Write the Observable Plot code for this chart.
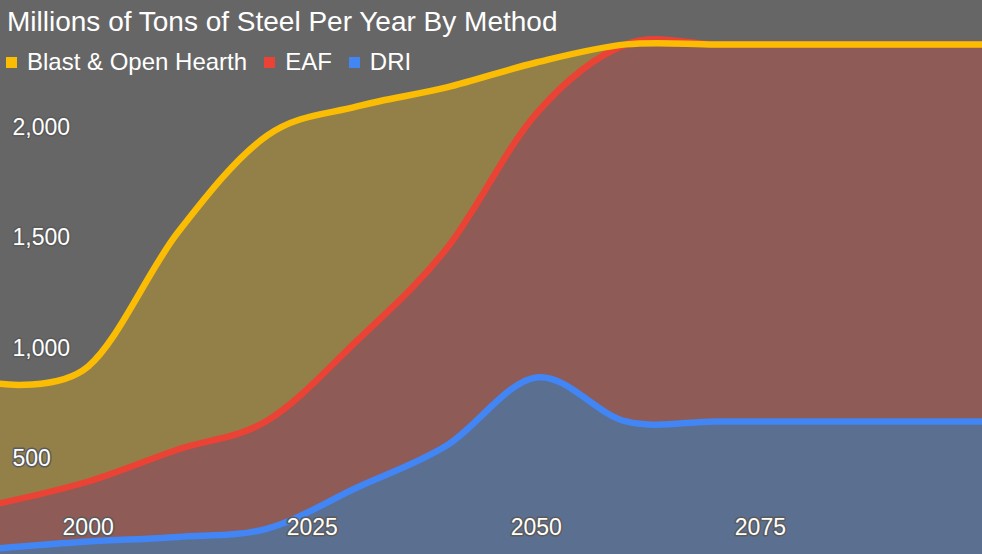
<!DOCTYPE html>
<html>
<head>
<meta charset="utf-8">
<script src="https://cdn.jsdelivr.net/npm/d3@7"></script>
<script src="https://cdn.jsdelivr.net/npm/@observablehq/plot@0.6"></script>
<style>
  html, body { margin: 0; padding: 0; background: #666666; overflow: hidden; }
  #wrap { position: relative; width: 982px; height: 554px; font-family: "Liberation Sans", Arial, sans-serif; color: #fff; }
  #title { position: absolute; left: 7px; top: 8px; font-size: 28px; line-height: 28px; white-space: nowrap; }
  #legend { position: absolute; left: 6px; top: 50px; display: flex; align-items: center; font-size: 24px; line-height: 24px; white-space: nowrap; }
  .item { display: flex; align-items: center; margin-right: 17px; }
  .sw { width: 11px; height: 11px; margin-right: 10px; }
  #chart { position: absolute; left: 0; top: 0; }
  #chart svg { overflow: hidden; }
</style>
</head>
<body>
<div id="wrap">
  <div id="chart"></div>
  <div id="title">Millions of Tons of Steel Per Year By Method</div>
  <div id="legend"></div>
</div>
<script>
// Data (millions of tons per year)
const years = [1990, 2000, 2010, 2020, 2030, 2040, 2050, 2060, 2070, 2080, 2090, 2100];
const dri   = [94, 125, 146, 184, 370, 560, 868, 669, 669, 669, 669, 669];
const eaf   = [203, 272, 396, 489, 665, 892, 1195, 1707, 1707, 1707, 1707, 1707];
const blast = [543, 521, 982, 1291, 1060, 729, 231, 0, 0, 0, 0, 0];

const methods = ["Blast & Open Hearth", "EAF", "DRI"];
const colors  = ["#FBBC04", "#EA4335", "#4285F4"];
const stackOrder = ["DRI", "EAF", "Blast & Open Hearth"];

const xTicks = [2000, 2025, 2050, 2075];
const yTicks = [500, 1000, 1500, 2000];

const series = {"DRI": dri, "EAF": eaf, "Blast & Open Hearth": blast};
const rows = stackOrder.flatMap(m => years.map((y, i) => ({year: y, method: m, value: series[m][i]})));

const fmt = d3.format(",");

const plot = Plot.plot({
  width: 982,
  height: 554,
  marginTop: 0, marginRight: 0, marginBottom: 0, marginLeft: 0,
  style: {background: "transparent", fontFamily: "'Liberation Sans', Arial, sans-serif"},
  x: {domain: [1990, 2100], range: [-2, 984], axis: null},
  y: {domain: [0, 2500], range: [568.7, 16.5], axis: null},
  color: {domain: methods, range: colors},
  marks: [
    Plot.areaY(rows, {x: "year", y: "value", z: "method", fill: "method", fillOpacity: 0.3,
      order: stackOrder, curve: "cardinal", clip: true}),
    Plot.lineY(rows, Plot.stackY2({x: "year", y: "value", z: "method", stroke: "method",
      order: stackOrder, curve: "cardinal", strokeWidth: 6.5, clip: true})),
    Plot.text(yTicks, {y: d => d, frameAnchor: "left", dx: 12, textAnchor: "start",
      text: d => fmt(d), fill: "white", stroke: "#5a5a5a", strokeWidth: 3, fontSize: 23}),
    Plot.text(xTicks, {x: d => d, frameAnchor: "bottom", dy: -27, lineAnchor: "middle",
      text: d => String(d), fill: "white", stroke: "#5a5a5a", strokeWidth: 3, fontSize: 23})
  ]
});
document.getElementById("chart").appendChild(plot);

const legend = document.getElementById("legend");
methods.forEach((m, i) => {
  const item = document.createElement("div");
  item.className = "item";
  const sw = document.createElement("span");
  sw.className = "sw";
  sw.style.background = colors[i];
  const t = document.createElement("span");
  t.textContent = m;
  item.appendChild(sw); item.appendChild(t);
  legend.appendChild(item);
});
</script>
</body>
</html>
